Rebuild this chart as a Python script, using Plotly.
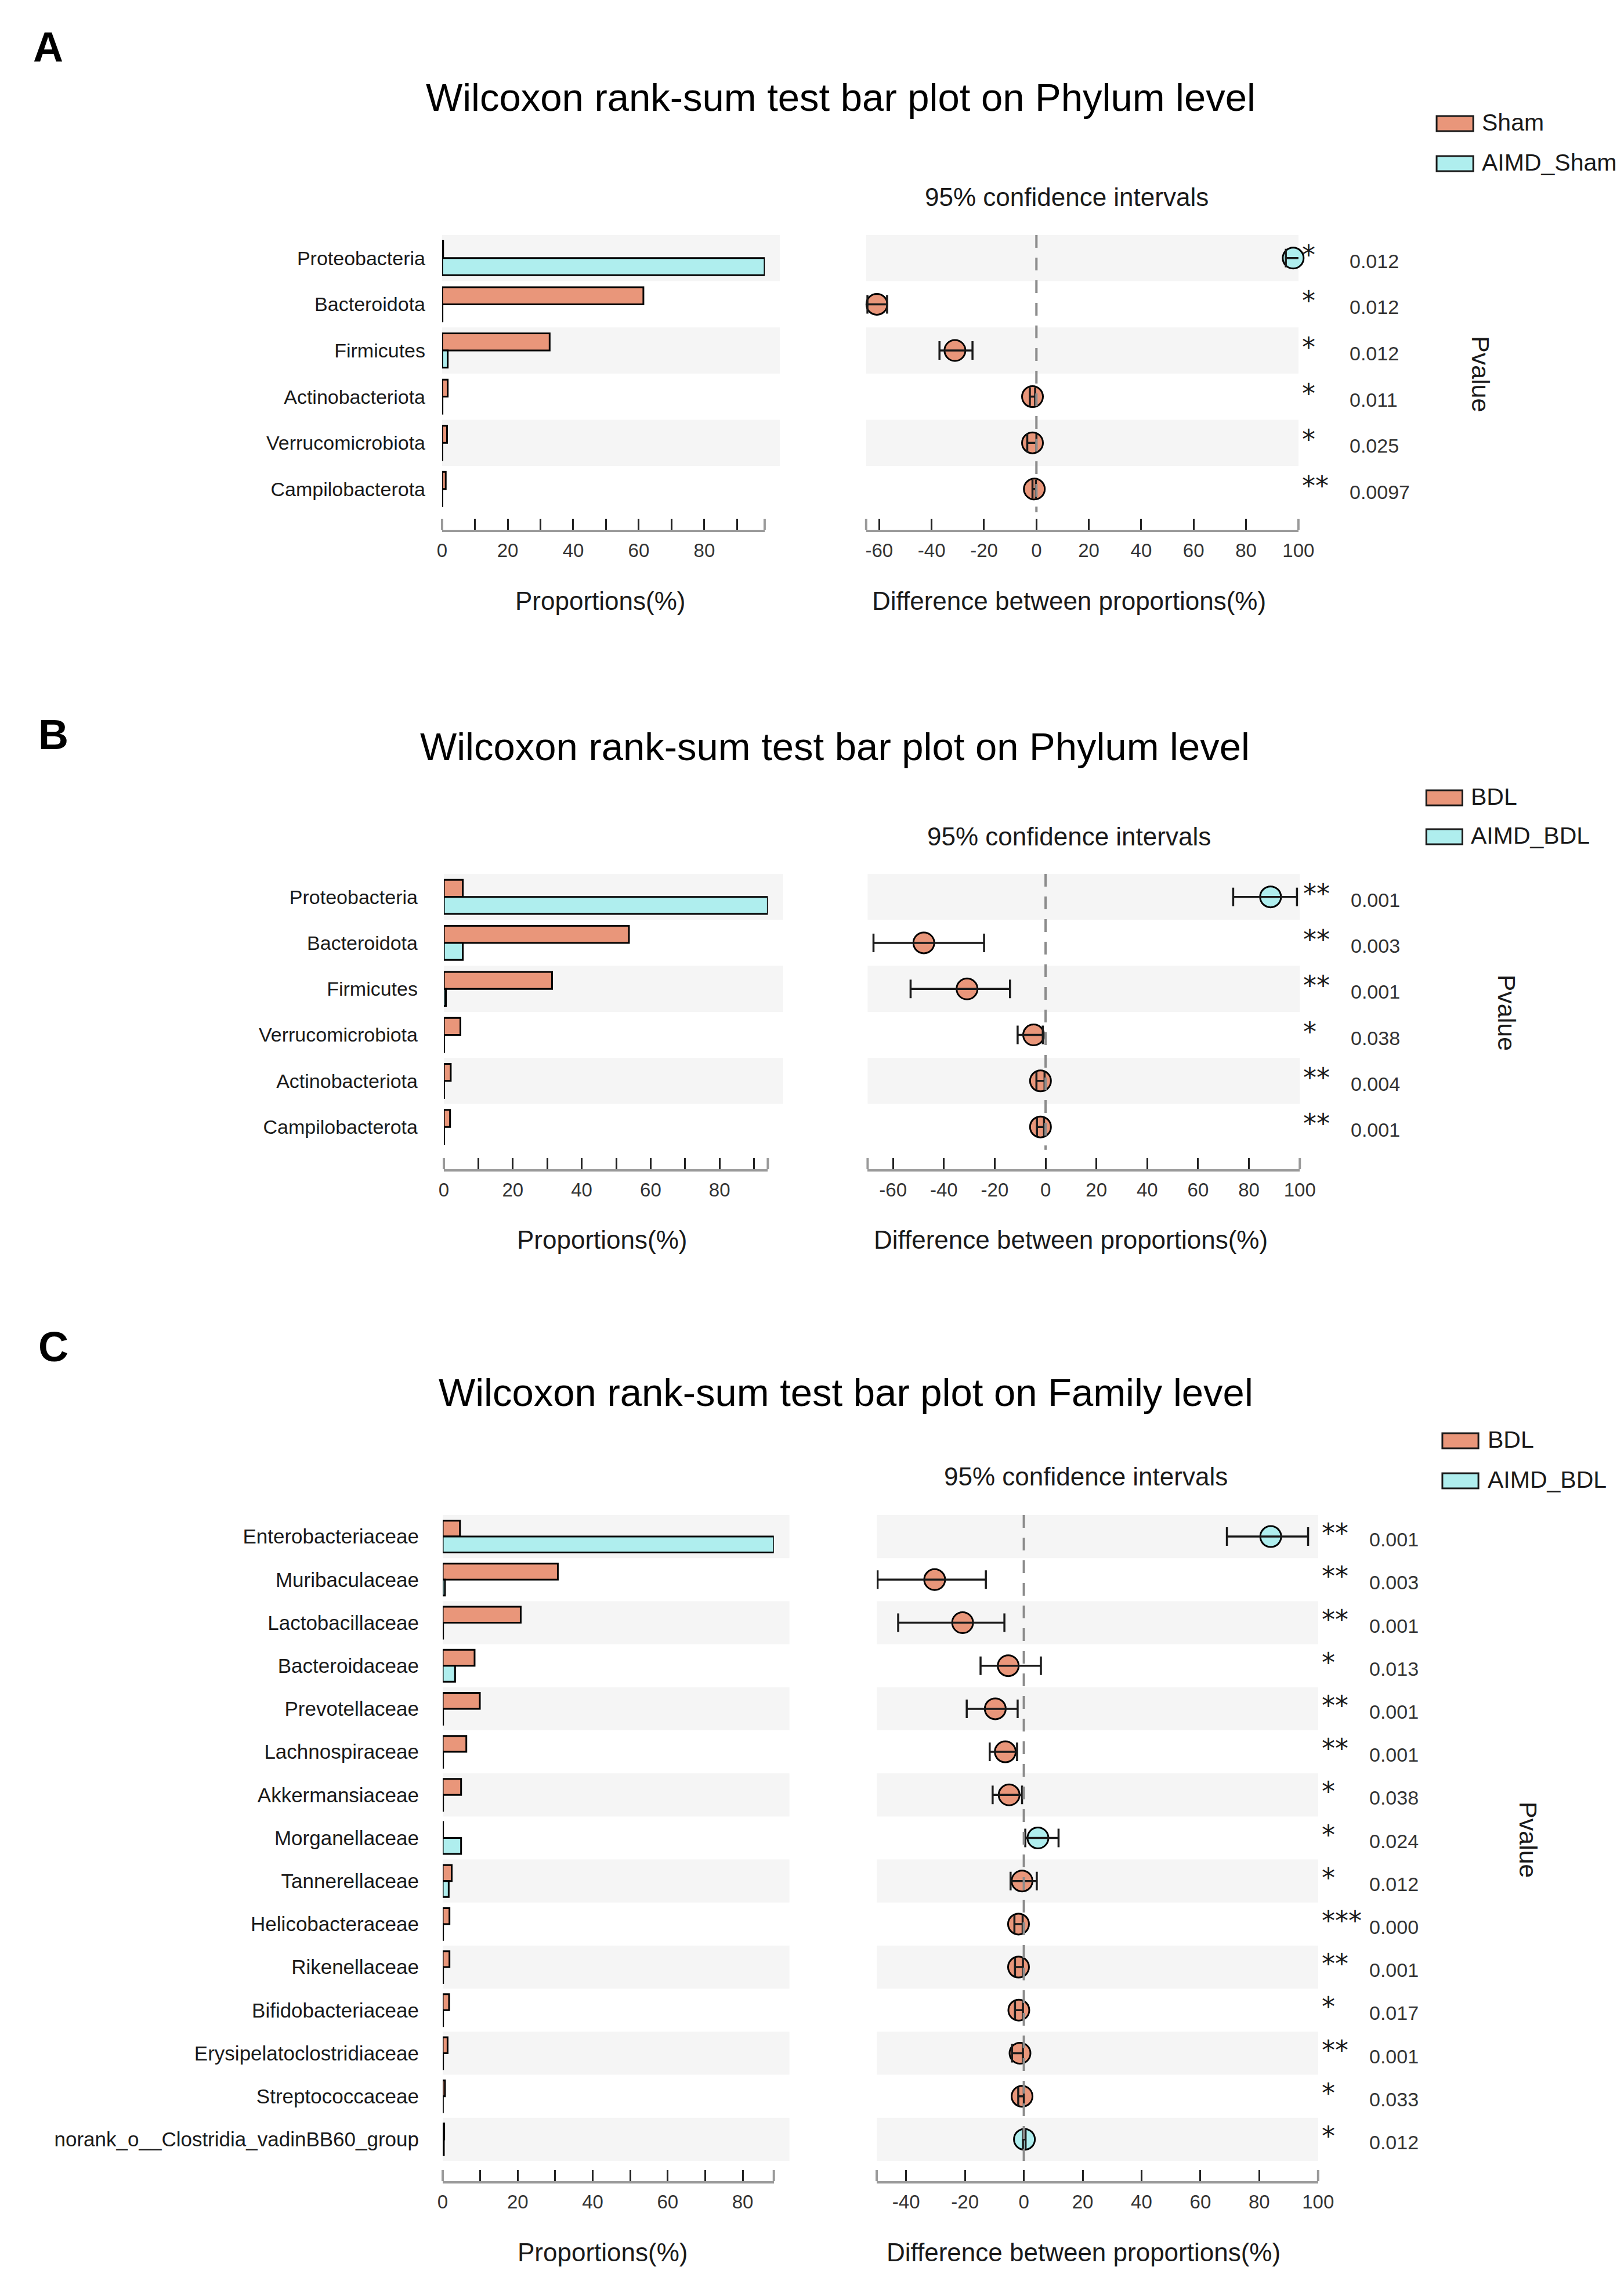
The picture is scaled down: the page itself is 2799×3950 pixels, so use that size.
import plotly.graph_objects as go

W, H = 2799, 3950
ORANGE = "#E9967A"
CYAN = "#AFEEEE"
BAND = "#F5F5F5"
AXIS_GRAY = "#9a9a9a"
TXT = "#1a1a1a"
FONT = "Liberation Sans, Arial, sans-serif"

# ---------------- Panel A data (Phylum, Sham vs AIMD_Sham) ----------------
A_taxa = ["Proteobacteria", "Bacteroidota", "Firmicutes", "Actinobacteriota",
          "Verrucomicrobiota", "Campilobacterota"]
A_group_names = ["Sham", "AIMD_Sham"]
A_g1 = [0.3, 61.4, 32.8, 1.7, 1.5, 1.1]
A_g2 = [98.4, 0.1, 1.7, 0.1, 0.05, 0.05]
A_diff = [98.0, -60.9, -31.1, -1.5, -1.5, -0.8]
A_lo = [95.2, -64.5, -37.0, -2.5, -3.5, -1.5]
A_hi = [100.6, -57.0, -24.4, -0.5, 0.0, -0.2]
A_stars = ["*", "*", "*", "*", "*", "**"]
A_pvals = ["0.012", "0.012", "0.012", "0.011", "0.025", "0.0097"]
A_diff_range = [-65, 100]
A_diff_ticks = [-60, -40, -20, 0, 20, 40, 60, 80, 100]

# ---------------- Panel B data (Phylum, BDL vs AIMD_BDL) ----------------
B_taxa = ["Proteobacteria", "Bacteroidota", "Firmicutes", "Verrucomicrobiota",
          "Actinobacteriota", "Campilobacterota"]
B_group_names = ["BDL", "AIMD_BDL"]
B_g1 = [5.5, 53.7, 31.4, 4.8, 2.0, 1.8]
B_g2 = [94.0, 5.5, 0.6, 0.1, 0.1, 0.1]
B_diff = [88.5, -47.9, -30.9, -4.7, -2.0, -2.0]
B_lo = [73.8, -67.7, -53.1, -11.0, -3.6, -3.4]
B_hi = [98.9, -24.2, -14.0, -1.1, -0.4, -0.6]
B_stars = ["**", "**", "**", "*", "**", "**"]
B_pvals = ["0.001", "0.003", "0.001", "0.038", "0.004", "0.001"]
B_diff_range = [-70, 100]
B_diff_ticks = [-60, -40, -20, 0, 20, 40, 60, 80, 100]

# ---------------- Panel C data (Family, BDL vs AIMD_BDL) ----------------
C_taxa = ["Enterobacteriaceae", "Muribaculaceae", "Lactobacillaceae", "Bacteroidaceae",
          "Prevotellaceae", "Lachnospiraceae", "Akkermansiaceae", "Morganellaceae",
          "Tannerellaceae", "Helicobacteraceae", "Rikenellaceae", "Bifidobacteriaceae",
          "Erysipelatoclostridiaceae", "Streptococcaceae",
          "norank_o__Clostridia_vadinBB60_group"]
C_group_names = ["BDL", "AIMD_BDL"]
C_g1 = [4.6, 30.7, 20.8, 8.5, 9.9, 6.3, 4.9, 0.1, 2.4, 1.8, 1.8, 1.7, 1.3, 0.6, 0.4]
C_g2 = [88.3, 0.6, 0.1, 3.3, 0.1, 0.1, 0.1, 4.9, 1.6, 0.1, 0.1, 0.1, 0.1, 0.05, 0.3]
C_diff = [83.9, -30.3, -20.8, -5.3, -9.7, -6.3, -5.0, 4.8, -0.6, -1.8, -1.8, -1.7, -1.3, -0.6, 0.2]
C_lo = [69.0, -49.7, -42.7, -14.7, -19.4, -11.6, -10.6, 0.5, -4.5, -3.2, -3.0, -3.0, -4.0, -1.9, -0.3]
C_hi = [96.6, -12.9, -6.6, 5.8, -2.1, -2.3, -0.6, 11.8, 4.4, -0.4, -0.3, -0.3, -0.3, 0.0, 0.6]
C_stars = ["**", "**", "**", "*", "**", "**", "*", "*", "*", "***", "**", "*", "**", "*", "*"]
C_pvals = ["0.001", "0.003", "0.001", "0.013", "0.001", "0.001", "0.038", "0.024",
           "0.012", "0.000", "0.001", "0.017", "0.001", "0.033", "0.012"]
C_diff_range = [-50, 100]
C_diff_ticks = [-40, -20, 0, 20, 40, 60, 80, 100]

PANELS = [
    dict(letter="A", level="Phylum", taxa=A_taxa, names=A_group_names, g1=A_g1, g2=A_g2,
         diff=A_diff, lo=A_lo, hi=A_hi, stars=A_stars, pvals=A_pvals,
         drange=A_diff_range, dticks=A_diff_ticks,
         lay=dict(letter=(67, 80), title=(1451, 166), leg_x=(2492, 2556), leg_y=(212, 281),
                  leg_tx=2569, ci=(1846, 339), band_top=404, row_h=79.6, axis_y=912,
                  lzero=755, lscale=5.725, rzero=1793, rscale=4.576,
                  atitle_y=1034, lt_x=1031, rt_x=1850, pv=(2569, 643), ystand=28, lfont=34)),
    dict(letter="B", level="Phylum", taxa=B_taxa, names=B_group_names, g1=B_g1, g2=B_g2,
         diff=B_diff, lo=B_lo, hi=B_hi, stars=B_stars, pvals=B_pvals,
         drange=B_diff_range, dticks=B_diff_ticks,
         lay=dict(letter=(76, 1265), title=(1441, 1285), leg_x=(2474, 2537), leg_y=(1374, 1441),
                  leg_tx=2550, ci=(1850, 1440), band_top=1505, row_h=79.3, axis_y=2014,
                  lzero=758, lscale=6.02, rzero=1809, rscale=4.44,
                  atitle_y=2135, lt_x=1034, rt_x=1853, pv=(2615, 1744), ystand=44, lfont=34)),
    dict(letter="C", level="Family", taxa=C_taxa, names=C_group_names, g1=C_g1, g2=C_g2,
         diff=C_diff, lo=C_lo, hi=C_hi, stars=C_stars, pvals=C_pvals,
         drange=C_diff_range, dticks=C_diff_ticks,
         lay=dict(letter=(76, 2320), title=(1460, 2398), leg_x=(2502, 2565), leg_y=(2482, 2551),
                  leg_tx=2579, ci=(1879, 2543), band_top=2610, row_h=74.2, axis_y=3758,
                  lzero=756, lscale=6.55, rzero=1771, rscale=5.14,
                  atitle_y=3880, lt_x=1035, rt_x=1875, pv=(2652, 3170), ystand=40, lfont=35)),
]

DY = -7  # global vertical correction (px)


def xp(px):
    return px / W


def yp(py):
    return 1 - (py + DY) / H


def axid(letter, i):
    return letter if i == 1 else f"{letter}{i}"


fig = go.Figure()
layout = dict(width=W, height=H, margin=dict(l=0, r=0, t=0, b=0),
              paper_bgcolor="white", plot_bgcolor="white", showlegend=False,
              barmode="overlay", font=dict(family=FONT, color=TXT))
shapes, annos = [], []
BAR_W = 0.37
TICKLEN = 19

for k, P in enumerate(PANELS):
    L = P["lay"]
    n = len(P["taxa"])
    idx = list(range(n))
    li, ri = 2 * k + 1, 2 * k + 2
    lx, ly = axid("x", li), axid("y", li)
    rx, ry = axid("x", ri), axid("y", ri)
    lxk, lyk = "xaxis" + ("" if li == 1 else str(li)), "yaxis" + ("" if li == 1 else str(li))
    rxk, ryk = f"xaxis{ri}", f"yaxis{ri}"
    ybot = (L["axis_y"] - L["band_top"]) / L["row_h"] - 0.5
    ydom = [yp(L["axis_y"]), yp(L["band_top"])]
    lmax = max(max(P["g1"]), max(P["g2"]))
    lx0, lx1 = L["lzero"], L["lzero"] + lmax * L["lscale"]
    rlo, rhi = P["drange"]
    rx0, rx1 = L["rzero"] + rlo * L["rscale"], L["rzero"] + rhi * L["rscale"]

    # ---- traces
    fig.add_trace(go.Bar(x=P["g1"], y=idx, orientation="h", width=BAR_W, offset=-BAR_W,
                         marker=dict(color=ORANGE, line=dict(color="black", width=3)),
                         cliponaxis=False, xaxis=lx, yaxis=ly, name=P["names"][0]))
    fig.add_trace(go.Bar(x=P["g2"], y=idx, orientation="h", width=BAR_W, offset=0,
                         marker=dict(color=CYAN, line=dict(color="black", width=3)),
                         cliponaxis=False, xaxis=lx, yaxis=ly, name=P["names"][1]))
    colors = [CYAN if d > 0 else ORANGE for d in P["diff"]]
    fig.add_trace(go.Scatter(x=P["diff"], y=idx, mode="markers", cliponaxis=False,
                             marker=dict(size=36, color=colors, line=dict(color="black", width=3)),
                             xaxis=rx, yaxis=ry))
    fig.add_trace(go.Scatter(
        x=P["diff"], y=idx, mode="markers", cliponaxis=False,
        marker=dict(size=1, color="rgba(0,0,0,0)"),
        error_x=dict(type="data", symmetric=False,
                     array=[h - d for h, d in zip(P["hi"], P["diff"])],
                     arrayminus=[d - l for d, l in zip(P["diff"], P["lo"])],
                     color="#1a1a1a", thickness=3.5, width=16),
        xaxis=rx, yaxis=ry))

    # ---- axes
    lt = [v for v in range(0, int(lmax) + 1, 10)]
    layout[lxk] = dict(domain=[xp(lx0), xp(lx1)], range=[0, lmax], anchor=ly,
                       tickvals=lt, ticktext=[str(v) if v % 20 == 0 else "" for v in lt],
                       ticks="inside", ticklen=TICKLEN, tickwidth=3, tickcolor="#222",
                       showline=True, linecolor=AXIS_GRAY, linewidth=4,
                       showgrid=False, zeroline=False, ticklabelstandoff=3,
                       tickfont=dict(size=33, color="#333"))
    layout[lyk] = dict(domain=ydom, range=[ybot, -0.5], anchor=lx,
                       tickvals=idx, ticktext=P["taxa"], ticks="", showline=False,
                       showgrid=False, zeroline=False, ticklabelstandoff=L["ystand"],
                       tickfont=dict(size=L["lfont"], color=TXT))
    layout[rxk] = dict(domain=[xp(rx0), xp(rx1)], range=[rlo, rhi], anchor=ry,
                       tickvals=P["dticks"], ticktext=[str(v) for v in P["dticks"]],
                       ticks="inside", ticklen=TICKLEN, tickwidth=3, tickcolor="#222",
                       showline=True, linecolor=AXIS_GRAY, linewidth=4,
                       showgrid=False, zeroline=False, ticklabelstandoff=3,
                       tickfont=dict(size=33, color="#333"))
    layout[ryk] = dict(domain=ydom, range=[ybot, -0.5], anchor=rx,
                       showticklabels=False, ticks="", showline=False,
                       showgrid=False, zeroline=False)

    # ---- background bands
    for i in range(0, n, 2):
        shapes.append(dict(type="rect", xref=f"{lx} domain", yref=ly, x0=0, x1=1.047,
                           y0=i - 0.5, y1=i + 0.5, fillcolor=BAND, line=dict(width=0),
                           layer="below"))
        shapes.append(dict(type="rect", xref=f"{rx} domain", yref=ry, x0=0, x1=1,
                           y0=i - 0.5, y1=i + 0.5, fillcolor=BAND, line=dict(width=0),
                           layer="below"))
    # axis end caps
    for ax in (lx, rx):
        for xd in (0, 1):
            shapes.append(dict(type="line", xref=f"{ax} domain", yref="paper", x0=xd, x1=xd,
                               y0=yp(L["axis_y"]), y1=yp(L["axis_y"] - TICKLEN),
                               line=dict(color=AXIS_GRAY, width=4)))
    # zero line
    shapes.append(dict(type="line", xref=rx, yref=ry, x0=0, x1=0, y0=-0.5, y1=n - 0.5,
                       line=dict(color="#8c8c8c", width=4, dash="22px,17px")))

    # ---- legend
    names = P["names"]
    for j, (c, nm) in enumerate(zip([ORANGE, CYAN], names)):
        cy = L["leg_y"][j]
        shapes.append(dict(type="rect", xref="paper", yref="paper",
                           x0=xp(L["leg_x"][0]), x1=xp(L["leg_x"][1]),
                           y0=yp(cy + 13), y1=yp(cy - 13), fillcolor=c,
                           line=dict(color="#1a1a1a", width=3)))
        annos.append(dict(text=nm, xref="paper", yref="paper", x=xp(L["leg_tx"]), y=yp(cy - 2),
                          xanchor="left", yanchor="middle", showarrow=False,
                          font=dict(size=41, color=TXT)))

    # ---- texts
    annos.append(dict(text=f"<b>{P['letter']}</b>", xref="paper", yref="paper",
                      x=xp(L["letter"][0]), y=yp(L["letter"][1]), xanchor="center",
                      yanchor="middle", showarrow=False,
                      font=dict(size=72, color="black", family="Liberation Sans, Arial")))
    annos.append(dict(text=f"Wilcoxon rank-sum test bar plot on {P['level']} level",
                      xref="paper", yref="paper", x=xp(L["title"][0]), y=yp(L["title"][1]),
                      xanchor="center", yanchor="middle", showarrow=False,
                      font=dict(size=67, color="black")))
    annos.append(dict(text="95% confidence intervals", xref="paper", yref="paper",
                      x=xp(L["ci"][0]), y=yp(L["ci"][1]), xanchor="center", yanchor="middle",
                      showarrow=False, font=dict(size=44, color=TXT)))
    annos.append(dict(text="Proportions(%)", xref="paper", yref="paper",
                      x=xp(L["lt_x"]), y=yp(L["atitle_y"]), xanchor="center", yanchor="middle",
                      showarrow=False, font=dict(size=44, color=TXT)))
    annos.append(dict(text="Difference between proportions(%)", xref="paper", yref="paper",
                      x=xp(L["rt_x"]), y=yp(L["atitle_y"]), xanchor="center", yanchor="middle",
                      showarrow=False, font=dict(size=44, color=TXT)))
    annos.append(dict(text="Pvalue", xref="paper", yref="paper", x=xp(L["pv"][0]),
                      y=yp(L["pv"][1]), xanchor="center", yanchor="middle", textangle=90,
                      showarrow=False, font=dict(size=43, color=TXT)))
    for i in idx:
        annos.append(dict(text=P["stars"][i], xref=f"{rx} domain", yref=ry, x=1, y=i,
                          xanchor="left", yanchor="middle", xshift=4, yshift=6,
                          showarrow=False,
                          font=dict(size=46, color=TXT, family="DejaVu Sans")))
        annos.append(dict(text=P["pvals"][i], xref=f"{rx} domain", yref=ry, x=1, y=i,
                          xanchor="left", yanchor="middle", xshift=86, yshift=-5,
                          showarrow=False, font=dict(size=34, color="#333")))

layout["shapes"] = shapes
layout["annotations"] = annos
fig.update_layout(**layout)
fig.write_html("out.html")
